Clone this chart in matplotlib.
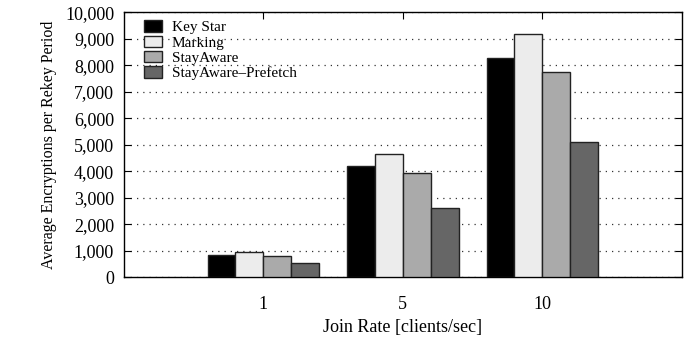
import numpy as np
import matplotlib.pyplot as plt
from matplotlib.ticker import FuncFormatter

# average encryptions per rekey period for each join rate
rates = ['1', '5', '10']
key_star = [850, 4190, 8270]
marking = [930, 4640, 9180]
stay_aware = [780, 3940, 7760]
stay_aware_prefetch = [520, 2600, 5090]

series = [key_star, marking, stay_aware, stay_aware_prefetch]
names = ['Key Star', 'Marking', 'StayAware', 'StayAware\u2013Prefetch']
colors = ['#000000', '#ececec', '#aaaaaa', '#666666']

plt.rcParams['font.family'] = ['Liberation Serif', 'DejaVu Serif']

fig = plt.figure(figsize=(6.88, 3.37), dpi=100)
ax = fig.add_axes([0.180, 0.178, 0.811, 0.785])

x = np.arange(len(rates))
width = 0.2
for i, (vals, name, col) in enumerate(zip(series, names, colors)):
    ax.bar(x + (i - 1.5) * width, vals, width, color=col, edgecolor='#222222',
           linewidth=1.0, label=name, zorder=3)

ax.set_xlim(-1, 3)
ax.set_ylim(0, 10000)
ax.set_xticks(x)
ax.set_xticklabels(rates)
ax.set_yticks(np.arange(0, 10001, 1000))
ax.yaxis.set_major_formatter(FuncFormatter(lambda v, p: '{:,.0f}'.format(v)))

# dotted horizontal grid
ax.yaxis.grid(True, linestyle=(0, (1, 4)), linewidth=0.9, color='#333333', zorder=0)
ax.set_axisbelow(True)

ax.tick_params(axis='both', direction='in', top=True, right=True, length=5,
               width=0.8, labelsize=13)
ax.tick_params(axis='x', pad=14)
ax.tick_params(axis='y', pad=7)
for s in ax.spines.values():
    s.set_linewidth(1.0)

ax.set_xlabel('Join Rate [clients/sec]', fontsize=13, labelpad=4)
ax.set_ylabel('Average Encryptions per Rekey Period', fontsize=11.5, labelpad=6)

leg = ax.legend(loc='upper left', bbox_to_anchor=(0.02, 1.005), frameon=False,
                fontsize=11, handlelength=1.2, handleheight=0.8,
                labelspacing=0.07, handletextpad=0.6, borderaxespad=0.2)

plt.savefig('out.png', dpi=100)
